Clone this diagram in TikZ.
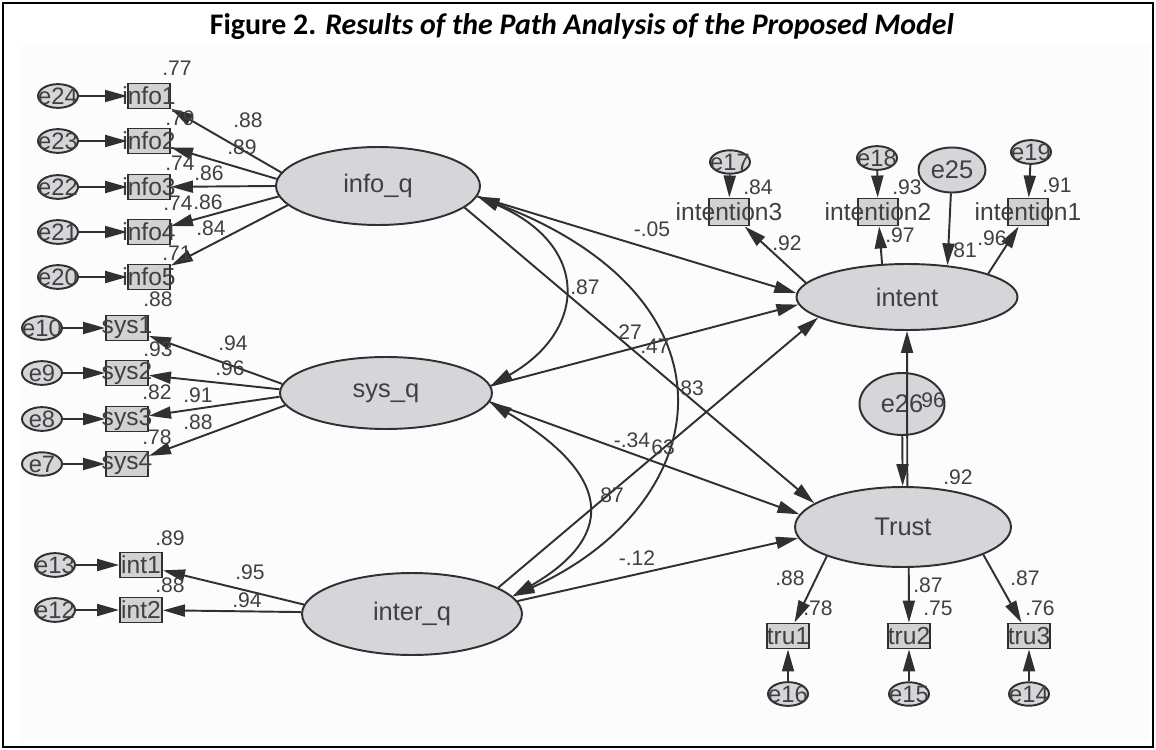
\documentclass[tikz,border=0pt]{standalone}
\usepackage{fontspec}
\setmainfont{Liberation Sans}
\newfontfamily\titlefont{Carlito}
\usetikzlibrary{shapes.geometric,arrows.meta}

\definecolor{inkc}{HTML}{303030}
\definecolor{textc}{HTML}{404040}
\definecolor{latentc}{HTML}{D6D6DA}
\definecolor{boxc}{HTML}{D2D2D4}
\definecolor{bgc}{HTML}{FCFCFC}

\newcommand{\ovr}[1]{\makebox[0pt]{#1}}

\tikzset{
	latent/.style={ellipse,draw=inkc,line width=1.1pt,fill=latentc,inner sep=0pt,text=textc,font=\fontsize{14.5}{15}\selectfont},
	errterm/.style={ellipse,draw=inkc,line width=1.1pt,fill=latentc,inner sep=0pt,minimum width=0.8cm,minimum height=0.46cm,text=textc,font=\fontsize{13.5}{14}\selectfont},
	obsbox/.style={rectangle,draw=inkc,line width=1.1pt,fill=boxc,inner sep=0pt,minimum width=0.84cm,minimum height=0.5cm,text=textc,font=\fontsize{14}{14}\selectfont},
	coef/.style={inner sep=0pt,text=textc,font=\fontsize{12}{12}\selectfont},
	reg/.style={draw=inkc,line width=1.1pt,-{Triangle[length=0.44cm,width=0.24cm]}},
	cov/.style={draw=inkc,line width=1.1pt,{Triangle[length=0.44cm,width=0.24cm]}-{Triangle[length=0.44cm,width=0.24cm]}}
}

\begin{document}
\begin{tikzpicture}[x=0.02cm,y=-0.02cm]
	\useasboundingbox (0,0) rectangle (1156,750);
	\fill[bgc] (20,45) rectangle (1150,742);
	\draw[line width=1.4pt] (3,3) rectangle (1153,747);
	\node[font=\titlefont\fontsize{17}{20}\selectfont\bfseries] (title) at (582,27) {Figure 2. \textit{Results of the Path Analysis of the Proposed Model}};

	% latent variables
	\node[latent,minimum width=4.08cm,minimum height=1.56cm] (infoq) at (378,186) {info\_q};
	\node[latent,minimum width=4.24cm,minimum height=1.44cm] (sysq) at (386,393) {sys\_q};
	\node[latent,minimum width=4.4cm,minimum height=1.64cm] (interq) at (412,614) {inter\_q};
	\node[latent,minimum width=4.42cm,minimum height=1.32cm] (intent) at (907,297) {intent};
	\node[latent,minimum width=4.32cm,minimum height=1.6cm] (Trust) at (903,527) {Trust};
	\node[latent,minimum width=1.34cm,minimum height=0.9cm] (e25) at (952,170) {e25};
	\node[latent,minimum width=1.7cm,minimum height=1.24cm] (e26) at (902,404) {e26};

	% left indicators
	\foreach \i/\y/\e/\a in {1/96/24/172,2/141/23/176,3/187/22/180,4/232/21/186,5/277/20/192}{
		\node[obsbox] (info\i) at (149,\y) {\ovr{info\i}};
		\node[errterm] (e\e) at (58,\y) {\ovr{e\e}};
		\draw[reg] (e\e) -- (info\i);
		\draw[reg] (infoq.\a) -- (info\i);
	}
	\foreach \i/\y/\e/\a in {1/328/10/175,2/373/9/178,3/419/8/182,4/464/7/187}{
		\node[obsbox] (sys\i) at (127,\y) {\ovr{sys\i}};
		\node[errterm] (e\e) at (42,\y) {\ovr{e\e}};
		\draw[reg] (e\e) -- (sys\i);
		\draw[reg] (sysq.\a) -- (sys\i);
	}
	\foreach \i/\y/\e/\a in {1/565/13/175,2/610/12/179}{
		\node[obsbox] (int\i) at (141,\y) {\ovr{int\i}};
		\node[errterm] (e\e) at (55,\y) {\ovr{e\e}};
		\draw[reg] (e\e) -- (int\i);
		\draw[reg] (interq.\a) -- (int\i);
	}

	% right indicators
	\foreach \i/\x/\ex/\ey/\e in {3/729/730/162/17,2/878/877/158/18,1/1028/1031/152/19}{
		\node[obsbox,minimum width=0.8cm,minimum height=0.54cm] (intention\i) at (\x,212) {\ovr{intention\i}};
		\node[errterm] (e\e) at (\ex,\ey) {\ovr{e\e}};
		\draw[reg] (e\e) -- (intention\i);
	}
	\draw[reg] (intent.172) -- (intention3);
	\draw[reg] (intent.127) -- (intention2);
	\draw[reg] (intent.16) -- (intention1);
	\draw[reg] (e25) -- (intent.38);

	\foreach \i/\x/\e/\a in {1/788/16/201,2/909/15/278,3/1029/14/341}{
		\node[obsbox] (tru\i) at (\x,636) {\ovr{tru\i}};
		\node[errterm] (e\e) at (\x,694) {\ovr{e\e}};
		\draw[reg] (e\e) -- (tru\i);
		\draw[reg] (Trust.\a) -- (tru\i);
	}

	% structural paths
	\draw[reg] (infoq.354) -- (intent.178);
	\draw[reg] (infoq.346) -- (Trust.165);
	\draw[reg] (sysq.4) -- (intent.184);
	\draw[reg] (sysq.355) -- (Trust.173);
	\draw[reg] (interq.17) -- (intent.193);
	\draw[reg] (interq.7) -- (Trust.186);
	\draw[reg] (Trust.84) -- (intent.south);
	\draw[reg] (e26) -- (Trust);
	\draw[cov] (infoq.354) .. controls (590,245) and (588,330) .. (sysq.4);
	\draw[cov] (infoq.354) .. controls (750,300) and (715,505) .. (interq.10);
	\draw[cov] (sysq.355) .. controls (620,480) and (610,540) .. (interq.10);

	% estimates
	\foreach \n/\x/\y/\t in {1/177/68/.77,2/180/118/.79,3/248/120/.88,4/242/147/.89,5/180/163/.74,
		6/209/173/.86,7/178/203/.74,8/208/202/.86,9/211/228/.84,10/177/253/.71,
		11/158/299/.88,12/233/343/.94,13/158/349/.93,14/230/368/.96,15/157/392/.82,
		16/198/395/.91,17/198/422/.88,18/157/437/.78,19/170/538/.89,20/170/585/.88,
		21/250/572/.95,22/247/600/.94,23/585/287/.87,24/630/332/27,25/655/346/.47,
		26/692/388/83,27/652/229/-.05,28/632/440/-.34,29/663/447/63,30/612/495/87,
		31/637/558/-.12,32/758/187/.84,33/907/187/.93,34/1057/185/.91,35/787/243/.92,
		36/900/235/.97,37/965/250/81,38/992/238/.96,39/933/400/96,40/958/477/.92,
		41/790/578/.88,42/818/608/.78,43/928/585/.87,44/938/608/.75,45/1025/578/.87,46/1040/608/.76}{
		\node[coef] (est\n) at (\x,\y) {\t};
	}
\end{tikzpicture}
\end{document}
